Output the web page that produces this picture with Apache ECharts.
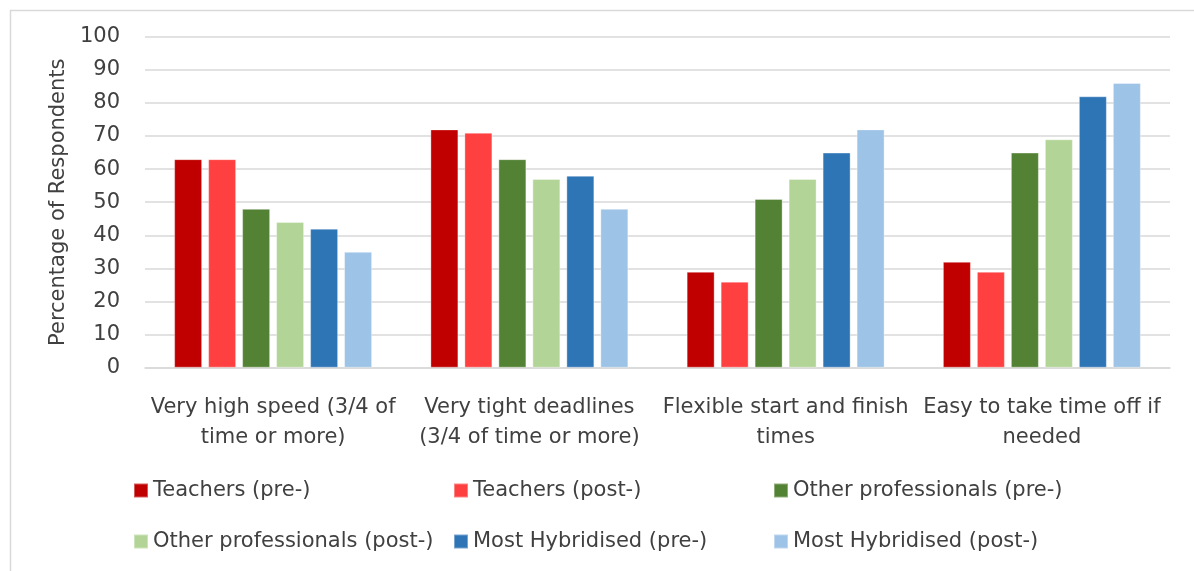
<!DOCTYPE html>
<html>
<head>
<meta charset="utf-8">
<script src="https://cdn.jsdelivr.net/npm/echarts@6/dist/echarts.min.js"></script>
<style>html,body{margin:0;padding:0;background:#fff}#c{width:1194px;height:571px}</style>
</head>
<body>
<div id="c"></div>
<script>
const categories = [
  'Very high speed (3/4 of\ntime or more)',
  'Very tight deadlines\n(3/4 of time or more)',
  'Flexible start and finish\ntimes',
  'Easy to take time off if\nneeded'
];
const seriesNames = [
  'Teachers (pre-)', 'Teachers (post-)',
  'Other professionals (pre-)', 'Other professionals (post-)',
  'Most Hybridised (pre-)', 'Most Hybridised (post-)'
];
const teachersPre = [63, 72, 29, 32];
const teachersPost = [63, 71, 26, 29];
const otherPre = [48, 63, 51, 65];
const otherPost = [44, 57, 57, 69];
const hybridPre = [42, 58, 65, 82];
const hybridPost = [35, 48, 72, 86];
const yTicks = { min: 0, max: 100, interval: 10 };

const colors = ['#C00000', '#FF4040', '#548235', '#B2D597', '#2E75B6', '#9DC3E6'];
const values = [teachersPre, teachersPost, otherPre, otherPost, hybridPre, hybridPost];
const font = 'DejaVu Sans';
const txt = '#404040';

const legendBase = {
  orient: 'vertical', top: 480, itemWidth: 14, itemHeight: 14, itemGap: 30,
  icon: 'rect', selectedMode: false, padding: 0,
  textStyle: { fontFamily: font, fontSize: 21, color: txt, lineHeight: 20 }
};

const chart = echarts.init(document.getElementById('c'));
chart.setOption({
  animation: false,
  color: colors,
  graphic: [{
    type: 'rect', left: 8, top: 8, silent: true,
    shape: { width: 1300, height: 700 },
    style: { fill: 'none', stroke: '#d9d9d9', lineWidth: 1.5 }
  }],
  legend: [
    Object.assign({}, legendBase, { left: 133, data: [seriesNames[0], seriesNames[3]] }),
    Object.assign({}, legendBase, { left: 453, data: [seriesNames[1], seriesNames[4]] }),
    Object.assign({}, legendBase, { left: 773, data: [seriesNames[2], seriesNames[5]] })
  ],
  grid: { left: 145, right: 24, top: 36.7, bottom: 203.3 },
  xAxis: {
    type: 'category', data: categories,
    axisLine: { lineStyle: { color: '#d9d9d9', width: 1.5 } },
    axisTick: { show: false },
    axisLabel: { fontFamily: font, fontSize: 21, color: txt, lineHeight: 30, margin: 25, interval: 0 }
  },
  yAxis: {
    type: 'value', min: yTicks.min, max: yTicks.max, interval: yTicks.interval,
    name: 'Percentage of Respondents', nameLocation: 'middle', nameGap: 76,
    nameTextStyle: { fontFamily: font, fontSize: 21, color: txt },
    axisLine: { show: false }, axisTick: { show: false },
    axisLabel: { fontFamily: font, fontSize: 21, color: txt, margin: 25 },
    splitLine: { lineStyle: { color: '#d9d9d9', width: 1.5 } }
  },
  series: seriesNames.map((n, i) => ({
    name: n, type: 'bar', data: values[i], barWidth: 28, barGap: '21.4%',
    itemStyle: { color: colors[i], borderColor: 'rgba(255,255,255,0.35)', borderWidth: 1 }
  }))
});
</script>
</body>
</html>
